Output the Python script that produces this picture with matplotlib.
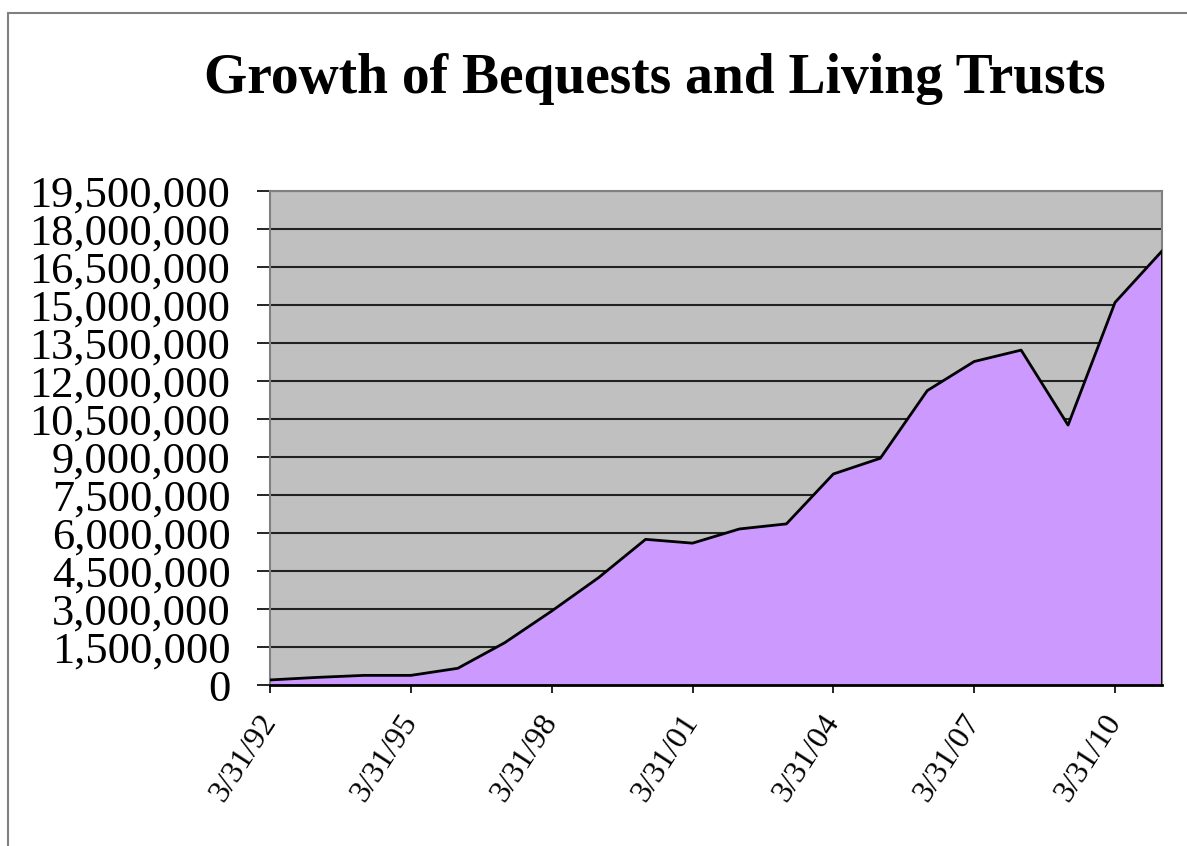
import matplotlib
matplotlib.use("Agg")
import matplotlib.pyplot as plt
from matplotlib.patches import Rectangle
from matplotlib.ticker import FuncFormatter

# datos (31 de marzo de cada anio)
anios = list(range(1992, 2012))
valores = [200000, 300000, 380000, 380000, 660000, 1670000, 2920000, 4240000,
           5750000, 5600000, 6160000, 6360000, 8330000, 8950000, 11620000,
           12770000, 13220000, 10260000, 15100000, 17130000]

anios_tick = anios[::3]
etiquetas_x = ["3/31/%02d" % (a % 100) for a in anios_tick]
ticks_y = list(range(0, 19500001, 1500000))

plt.rcParams["font.family"] = ["Liberation Serif", "DejaVu Serif"]

fig = plt.figure(figsize=(11.87, 8.46), dpi=100)
ax = fig.add_axes([0.2275, 0.1903, 0.9789 - 0.2275, 0.7742 - 0.1903])
ax.set_facecolor("#C0C0C0")

# marco de la figura
fig.patches.append(Rectangle((8 / 1187, -0.1), 1.2, 1 - 13 / 846 + 0.1,
                             transform=fig.transFigure, fill=False,
                             edgecolor="#808080", linewidth=1.5))

ax.fill_between(anios, valores, 0, color="#CC99FF", zorder=2)
ax.plot(anios, valores, color="black", linewidth=2, zorder=3)
ax.plot([anios[-1], anios[-1]], [0, valores[-1]], color="black", linewidth=2, zorder=3)

ax.set_xlim(anios[0], anios[-1])
ax.set_ylim(0, 19500000)
ax.set_yticks(ticks_y)
ax.yaxis.set_major_formatter(FuncFormatter(lambda v, p: "{:,}".format(int(v))))
ax.set_xticks(anios_tick)
ax.set_xticklabels(etiquetas_x, rotation=57, ha="right", va="center",
                   rotation_mode="anchor")

ax.grid(axis="y", color="#222222", linewidth=1.5, zorder=1)
ax.set_axisbelow(True)

for lado in ["top", "right", "left"]:
    ax.spines[lado].set_color("#808080")
    ax.spines[lado].set_linewidth(1.5)
ax.spines["bottom"].set_color("black")
ax.spines["bottom"].set_linewidth(2)

ax.tick_params(axis="y", labelsize=32, length=9.5, width=1.2, pad=19)
ax.tick_params(axis="x", labelsize=23, length=6, width=1.2, pad=17)

fig.text(0.552, 0.89, "Growth of Bequests and Living Trusts", ha="center",
         va="baseline", fontsize=40, fontweight="bold")

fig.savefig("out.png", dpi=100)
